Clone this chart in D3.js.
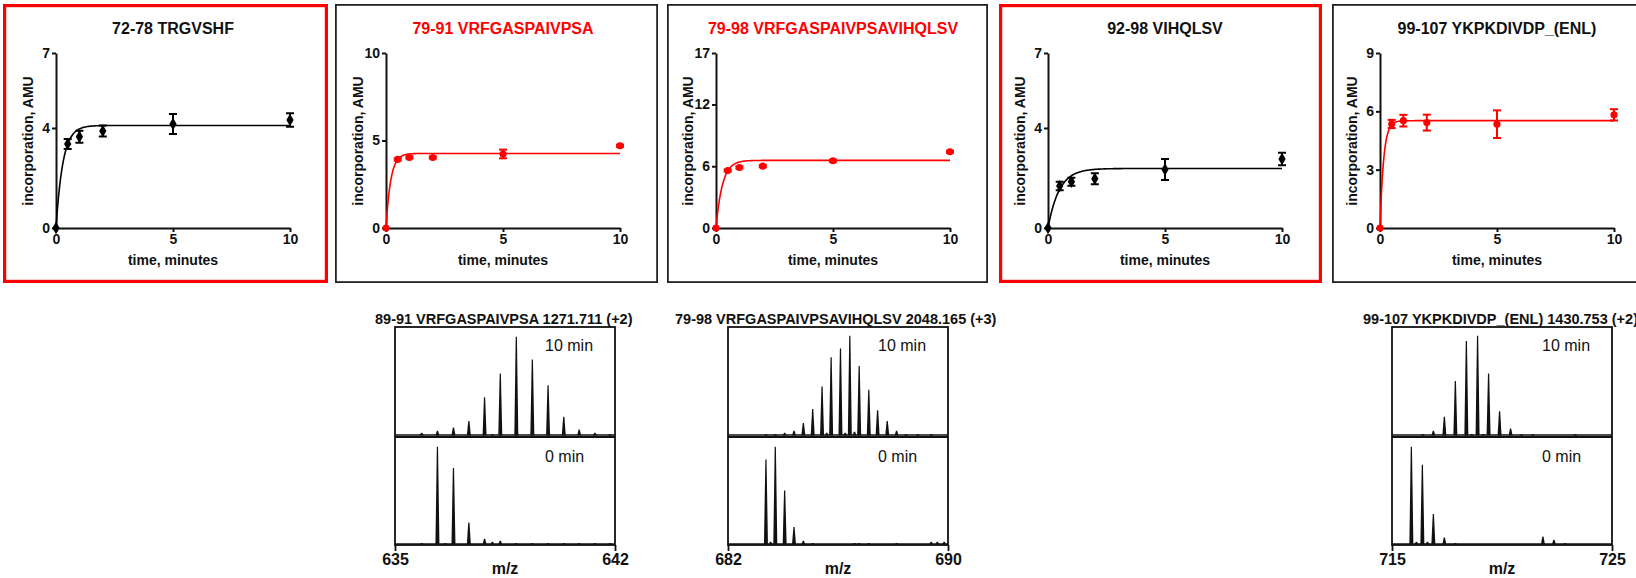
<!DOCTYPE html>
<html>
<head>
<meta charset="utf-8">
<script src="https://cdn.jsdelivr.net/npm/d3@7"></script>
<style>
  body { margin: 0; background: #fff; }
  svg { display: block; font-family: "Liberation Sans", Arial, sans-serif; }
</style>
</head>
<body>
<svg id="fig" width="1636" height="578"></svg>
<script>
// ---- kinetic data: deuterium incorporation vs time ----
const times = [0, 0.5, 1, 2, 5, 10];

const kinTitles = ['72-78 TRGVSHF', '79-91 VRFGASPAIVPSA', '79-98 VRFGASPAIVPSAVIHQLSV', '92-98 VIHQLSV', '99-107 YKPKDIVDP_(ENL)'];
const kinYMax = [7, 10, 17, 7, 9];
const kinYTicks = [[0, 4, 7], [0, 5, 10], [0, 6, 12, 17], [0, 4, 7], [0, 3, 6, 9]];
const kinXTicks = [0, 5, 10];

const kinMeans = [
  [0, 3.36, 3.65, 3.88, 4.16, 4.32],
  [0, 3.92, 4.03, 4.03, 4.23, 4.70],
  [0, 5.59, 5.88, 6.01, 6.53, 7.41],
  [0, 1.68, 1.85, 1.97, 2.34, 2.76],
  [0, 5.35, 5.52, 5.42, 5.34, 5.82]
];
const kinErr = [
  [0, 0.2, 0.24, 0.22, 0.4, 0.27],
  [0, 0.06, 0.06, 0.06, 0.25, 0.06],
  [0, 0.1, 0.1, 0.1, 0.1, 0.1],
  [0, 0.17, 0.16, 0.22, 0.42, 0.25],
  [0, 0.21, 0.3, 0.41, 0.71, 0.29]
];
// single exponential fit: plateau * (1 - exp(-rate * t))
const fitPlateau = [4.1, 4.26, 6.57, 2.38, 5.52];
const fitRate = [3.4, 5, 3.7, 2.1, 6.5];

// ---- mass spectra ----
const specTitles = ['89-91 VRFGASPAIVPSA 1271.711 (+2)', '79-98 VRFGASPAIVPSAVIHQLSV 2048.165 (+3)', '99-107 YKPKDIVDP_(ENL) 1430.753 (+2)'];
const specLabels = ['10 min', '0 min'];
const mzRange = [[635, 642], [682, 690], [715, 725]];

// [m/z, relative intensity %] for 10 min
const peaks10 = [
  [[635.85, 2], [636.35, 4], [636.86, 7], [637.35, 13], [637.85, 35], [638.10, 1], [638.35, 57], [638.86, 91],
   [639.37, 70], [639.87, 46], [640.37, 17], [640.86, 5], [641.36, 2], [641.84, 1]],
  [[683.38, 1], [683.72, 1], [684.06, 2], [684.40, 4], [684.74, 11], [685.08, 24], [685.42, 45], [685.59, 2],
   [685.75, 72], [686.09, 80], [686.26, 2], [686.43, 92], [686.60, 3], [686.77, 64], [687.12, 42], [687.44, 23],
   [687.79, 13], [688.13, 4], [688.47, 1], [688.90, 1], [689.40, 1]],
  [[716.39, 1], [716.88, 4], [717.38, 17], [717.88, 50], [718.38, 87], [718.62, 1], [718.89, 92], [719.14, 1],
   [719.39, 57], [719.89, 22], [720.39, 6], [720.89, 1], [721.40, 1], [723.33, 1]]
];
// 0 min
const peaks0 = [
  [[635.85, 1], [636.35, 91], [636.60, 1], [636.86, 71], [637.35, 20], [637.85, 5], [638.10, 2], [638.35, 3],
   [638.86, 1], [639.37, 1], [639.87, 1], [640.37, 1], [640.86, 1], [641.36, 1], [641.84, 1]],
  [[683.38, 79], [683.55, 2], [683.72, 91], [684.06, 50], [684.40, 16], [684.74, 3], [685.08, 1], [686.60, 1],
   [686.77, 1], [687.12, 1], [688.13, 1], [689.39, 2], [689.61, 2], [689.86, 2]],
  [[715.88, 91], [716.11, 2], [716.38, 74], [716.61, 2], [716.88, 28], [717.38, 6], [717.88, 1], [721.86, 7],
   [722.36, 4], [722.86, 1]]
];

// ---- layout ----
const svg = d3.select('#fig');
const RED = '#ff0000';
const boxLeft = [3, 335, 667, 999, 1332];
const boxRight = [328, 658, 988, 1322, 1655];
const boxRed = [true, false, false, true, false];
const titleRed = [false, true, true, false, false];
const axisLeftX = [56, 386, 716, 1048, 1380];
const plotW = 234, yTop = 53, yBottom = 228;
const colorOf = [ '#000', RED, RED, '#000', RED ];

kinTitles.forEach((title, i) => {
  const sw = boxRed[i] ? 3.2 : 1.8;
  svg.append('rect')
    .attr('x', boxLeft[i] + sw / 2).attr('y', 4 + sw / 2)
    .attr('width', boxRight[i] - boxLeft[i] - sw).attr('height', 279 - sw)
    .attr('fill', 'none')
    .attr('stroke', boxRed[i] ? RED : '#222')
    .attr('stroke-width', sw);

  const x = d3.scaleLinear().domain([0, 10]).range([axisLeftX[i], axisLeftX[i] + plotW]);
  const y = d3.scaleLinear().domain([0, kinYMax[i]]).range([yBottom, yTop]);
  const g = svg.append('g');
  const col = colorOf[i];

  g.append('text')
    .attr('x', (x.range()[0] + x.range()[1]) / 2).attr('y', 34)
    .attr('text-anchor', 'middle')
    .style('font-size', '16px').style('font-weight', 'bold')
    .style('fill', titleRed[i] ? RED : '#111')
    .text(title);

  const yAxis = g.append('g')
    .attr('transform', `translate(${axisLeftX[i]},0)`)
    .call(d3.axisLeft(y).tickValues(kinYTicks[i]).tickSize(4).tickSizeOuter(0).tickPadding(2).tickFormat(d3.format('d')));
  const xAxis = g.append('g')
    .attr('transform', `translate(0,${yBottom})`)
    .call(d3.axisBottom(x).tickValues(kinXTicks).tickSize(4).tickSizeOuter(0).tickPadding(2).tickFormat(d3.format('d')));
  [yAxis, xAxis].forEach(a => {
    a.select('.domain').attr('stroke', '#111').attr('stroke-width', 2);
    a.selectAll('.tick line').attr('stroke', '#111').attr('stroke-width', 2);
    a.selectAll('.tick text').style('font-size', '14px').style('font-weight', 'bold')
      .style('font-family', '"Liberation Sans", Arial, sans-serif').attr('fill', '#111');
  });

  g.append('text')
    .attr('transform', `translate(${axisLeftX[i] - 23},${141}) rotate(-90)`)
    .attr('text-anchor', 'middle')
    .style('font-size', '14px').style('font-weight', 'bold').style('fill', '#111')
    .text('incorporation, AMU');
  g.append('text')
    .attr('x', (x.range()[0] + x.range()[1]) / 2).attr('y', 265)
    .attr('text-anchor', 'middle')
    .style('font-size', '14px').style('font-weight', 'bold').style('fill', '#111')
    .text('time, minutes');

  // fitted curve
  const curveT = d3.range(0, 10.001, 0.05);
  g.append('path')
    .datum(curveT)
    .attr('fill', 'none').attr('stroke', col).attr('stroke-width', 1.6)
    .attr('d', d3.line().x(t => x(t)).y(t => y(fitPlateau[i] * (1 - Math.exp(-fitRate[i] * t)))));

  // error bars
  const pts = times.map((t, j) => ({ t, m: kinMeans[i][j], e: kinErr[i][j] }));
  const eb = g.selectAll('g.err').data(pts.filter(d => d.e > 0)).enter().append('g')
    .attr('stroke', col).attr('stroke-width', 2);
  eb.append('line').attr('x1', d => x(d.t)).attr('x2', d => x(d.t))
    .attr('y1', d => y(d.m - d.e)).attr('y2', d => y(d.m + d.e));
  eb.append('line').attr('x1', d => x(d.t) - 4).attr('x2', d => x(d.t) + 4)
    .attr('y1', d => y(d.m - d.e)).attr('y2', d => y(d.m - d.e));
  eb.append('line').attr('x1', d => x(d.t) - 4).attr('x2', d => x(d.t) + 4)
    .attr('y1', d => y(d.m + d.e)).attr('y2', d => y(d.m + d.e));

  // markers
  const sym = col === RED ? d3.symbolCircle : d3.symbolDiamond;
  g.selectAll('path.pt').data(pts).enter().append('path')
    .attr('class', 'pt')
    .attr('transform', d => `translate(${x(d.t)},${y(d.m)})`)
    .attr('d', d3.symbol().type(sym).size(col === RED ? 40 : 46))
    .attr('fill', col);
});

// ---- spectra ----
const specBoxX = [395, 728, 1392];
const specTitleX = [375, 675, 1363];
const specW = 220, sTop = 327, sMid = 437, sBot = 545;

specTitles.forEach((title, i) => {
  const g = svg.append('g');
  const x = d3.scaleLinear().domain(mzRange[i]).range([specBoxX[i], specBoxX[i] + specW]);
  const yUp = d3.scaleLinear().domain([0, 100]).range([sMid - 2, sTop]);
  const yLo = d3.scaleLinear().domain([0, 100]).range([sBot - 1, sMid]);

  g.append('text')
    .attr('x', specTitleX[i]).attr('y', 324)
    .style('font-size', '14.5px').style('font-weight', 'bold').style('fill', '#111')
    .text(title);

  [[peaks10[i], yUp], [peaks0[i], yLo]].forEach(([pk, ys]) => {
    g.append('line')
      .attr('x1', x.range()[0]).attr('x2', x.range()[1])
      .attr('y1', ys(0)).attr('y2', ys(0))
      .attr('stroke', '#111').attr('stroke-width', 1.3);
    g.selectAll(null).data(pk).enter().append('path')
      .attr('fill', '#111')
      .attr('d', d => {
        const px = x(d[0]), b = ys(0) + 0.5, t = ys(d[1]);
        return `M${px - 2},${b}L${px - 0.6},${t}L${px + 0.6},${t}L${px + 2},${b}Z`;
      });
  });

  g.append('rect')
    .attr('x', specBoxX[i]).attr('y', sTop).attr('width', specW).attr('height', sBot - sTop)
    .attr('fill', 'none').attr('stroke', '#111').attr('stroke-width', 1.8);
  g.append('line')
    .attr('x1', specBoxX[i]).attr('x2', specBoxX[i] + specW)
    .attr('y1', sMid).attr('y2', sMid)
    .attr('stroke', '#111').attr('stroke-width', 1.8);

  g.append('text').attr('x', specBoxX[i] + 150).attr('y', 351)
    .style('font-size', '16px').style('fill', '#111').text(specLabels[0]);
  g.append('text').attr('x', specBoxX[i] + 150).attr('y', 462)
    .style('font-size', '16px').style('fill', '#111').text(specLabels[1]);

  const ax = g.append('g')
    .attr('transform', `translate(0,${sBot})`)
    .call(d3.axisBottom(x).tickValues(mzRange[i]).tickSize(6).tickSizeOuter(0).tickPadding(3).tickFormat(d3.format('d')));
  ax.select('.domain').remove();
  ax.selectAll('.tick line').attr('stroke', '#111').attr('stroke-width', 1.8);
  ax.selectAll('.tick text').style('font-size', '16px').style('font-weight', 'bold')
    .style('font-family', '"Liberation Sans", Arial, sans-serif').attr('fill', '#111');

  g.append('text')
    .attr('x', specBoxX[i] + specW / 2).attr('y', 574)
    .attr('text-anchor', 'middle')
    .style('font-size', '16px').style('font-weight', 'bold').style('fill', '#111')
    .text('m/z');
});
</script>
</body>
</html>
